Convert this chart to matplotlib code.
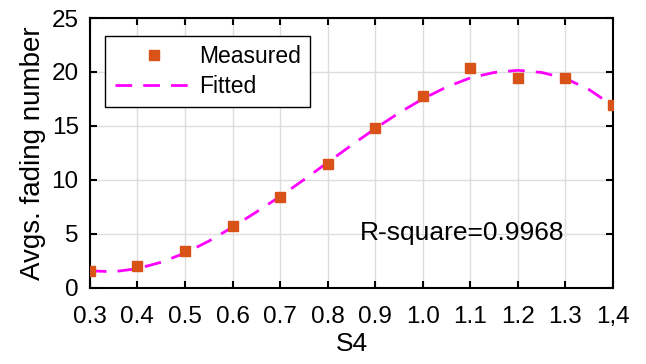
import numpy as np
from matplotlib import pyplot as plt

# measured points
s4 = [0.3, 0.4, 0.5, 0.6, 0.7, 0.8, 0.9, 1.0, 1.1, 1.2, 1.3, 1.4]
measured = [1.5, 2.0, 3.4, 5.7, 8.4, 11.5, 14.8, 17.8, 20.4, 19.4, 19.4, 16.9]

# fitted curve
s4_fit = [0.30, 0.35, 0.40, 0.45, 0.50, 0.55, 0.60, 0.65, 0.70, 0.75, 0.80, 0.85,
          0.90, 0.95, 1.00, 1.05, 1.10, 1.15, 1.20, 1.25, 1.30, 1.35, 1.40]
fitted = [1.55, 1.47, 1.75, 2.35, 3.2, 4.3, 5.6, 7.0, 8.45, 10.0, 11.6, 13.2,
          14.75, 16.2, 17.5, 18.6, 19.45, 19.95, 20.15, 19.95, 19.4, 18.35, 16.85]

xtick_labels = ['0.3', '0.4', '0.5', '0.6', '0.7', '0.8', '0.9', '1.0',
                '1.1', '1.2', '1.3', '1,4']

plt.rcParams['font.family'] = ['Liberation Sans', 'DejaVu Sans']

fig = plt.figure(figsize=(6.46, 3.64), dpi=100)
ax = fig.add_axes([0.139, 0.21, 0.81, 0.7405])

ax.plot(s4, measured, 's', color='#D95319', markersize=7, label='Measured', zorder=3)
ax.plot(s4_fit, fitted, '--', color='#FF00FF', linewidth=2, dashes=(6, 4),
        label='Fitted', zorder=2)

ax.set_xlim(0.3, 1.4)
ax.set_ylim(0, 25)
ax.set_xticks(s4)
ax.set_xticklabels(xtick_labels)
ax.set_yticks([0, 5, 10, 15, 20, 25])
ax.tick_params(direction='in', top=True, right=True, length=5, width=1.5,
               labelsize=17.5)
ax.tick_params(axis='x', pad=13)
ax.tick_params(axis='y', pad=8)
ax.grid(True, color='#DEDEDE', linewidth=1)
ax.set_axisbelow(True)
for sp in ax.spines.values():
    sp.set_linewidth(1.5)

ax.set_xlabel('S4', fontsize=19, labelpad=3)
ax.set_ylabel('Avgs. fading number', fontsize=20, labelpad=4)

ax.text(1.082, 5.05, 'R-square=0.9968', fontsize=19, ha='center', va='center')

leg = ax.legend(loc='upper left', bbox_to_anchor=(0.03, 0.935), fontsize=16.5,
                frameon=True, fancybox=False, edgecolor='black', framealpha=1,
                handlelength=3.4, handletextpad=0.3, borderpad=0.4,
                labelspacing=0.3, borderaxespad=0)
leg.get_frame().set_linewidth(1)

fig.savefig('out.png', dpi=100)
